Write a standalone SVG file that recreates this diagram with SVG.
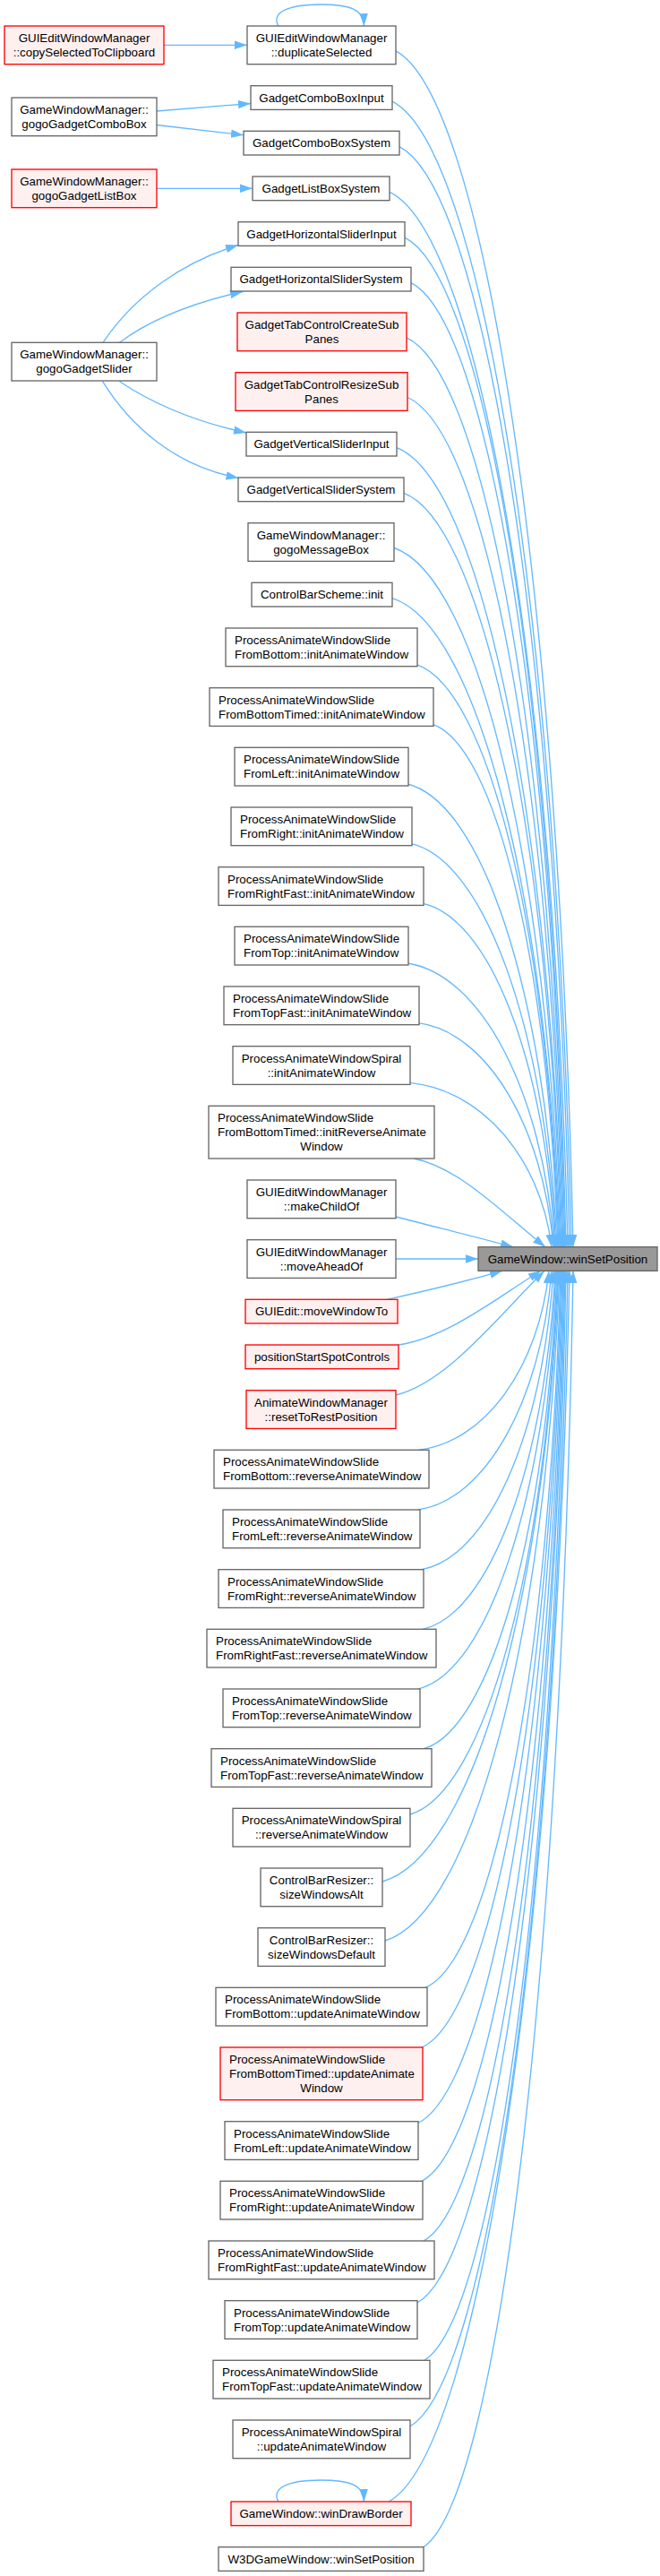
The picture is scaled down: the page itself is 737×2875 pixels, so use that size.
<svg xmlns="http://www.w3.org/2000/svg" width="737" height="2875" viewBox="0 0 737 2875">
<style>
.n{fill:#ffffff;stroke:#666666;stroke-width:1.33}
.r{fill:#fff0f0;stroke:#ff0000;stroke-width:1.33}
.t{fill:#999999;stroke:#666666;stroke-width:1.33}
text{font-family:"Liberation Sans",Arial,Helvetica,sans-serif;font-size:13.33px;fill:#000000}
.c{text-anchor:middle}
.e{fill:none;stroke:#63b8ff;stroke-width:1.33;marker-end:url(#arr)}
</style>
<defs>
<marker id="arr" markerUnits="userSpaceOnUse" markerWidth="14" markerHeight="10" refX="13.3" refY="4.5" orient="auto" viewBox="0 0 13.3 9">
<path d="M0,0 L13.3,4.5 L0,9 Z" fill="#63b8ff"/>
</marker>
</defs>
<rect x="0" y="0" width="737" height="2875" fill="#ffffff"/>
<g id="edges">
<path class="e" d="M183,50.3 L276,50.3"/>
<path class="e" d="M175,124 L280,115.5"/>
<path class="e" d="M175,139.5 L272,150.7"/>
<path class="e" d="M175,210.3 L282,210.3"/>
<path class="e" d="M115,382.3 C150,330 205,292 266,273.5"/>
<path class="e" d="M133.5,382.3 C170,355 215,338 271,325.5"/>
<path class="e" d="M133.5,425.7 C170,450 215,470 275,483"/>
<path class="e" d="M114.6,425.7 C145,475 195,520 266.5,533.5"/>
<path class="e" d="M311,29 C302,14 322,5 358,5 C390,5 406,10 406.5,29"/>
<path class="e" d="M311,2792 C302,2777 322,2768 358,2768 C390,2768 406,2773 406.5,2792"/>
<path class="e" d="M442,56.8 C541,110.2 624.2,657.5 640,1391.7"/>
<path class="e" d="M438,113.1 C538,164.2 622,688.5 638,1391.7"/>
<path class="e" d="M446,163.7 C541,212.8 620.8,716.3 636,1391.7"/>
<path class="e" d="M435,214.4 C534.5,261.5 618.1,744.2 634,1391.7"/>
<path class="e" d="M452,265.1 C542,310.2 617.6,772.1 632,1391.7"/>
<path class="e" d="M459,315.7 C545,358.7 617.2,799.9 631,1391.7"/>
<path class="e" d="M454,376.8 C542,417.4 615.9,833.5 630,1391.7"/>
<path class="e" d="M455,443.5 C542,481.4 615.1,870.2 629,1391.7"/>
<path class="e" d="M443,499.7 C535.5,535.4 613.2,901.1 628,1391.7"/>
<path class="e" d="M451,550.4 C539,584.1 612.9,929 627,1391.7"/>
<path class="e" d="M440,611.5 C533,642.7 611.1,962.6 626,1391.7"/>
<path class="e" d="M438,667.7 C531.5,696.7 610,993.5 625,1391.7"/>
<path class="e" d="M465,741.7 C544.5,767.7 611.3,1034.2 624,1391.7"/>
<path class="e" d="M483,808.4 C553,831.7 611.8,1070.9 623,1391.7"/>
<path class="e" d="M455,875 C538.5,895.7 608.6,1107.5 622,1391.7"/>
<path class="e" d="M459,941.7 C540,959.7 608,1144.2 621,1391.7"/>
<path class="e" d="M472,1008.4 C546,1023.7 608.2,1180.9 620,1391.7"/>
<path class="e" d="M455,1075 C537,1087.7 605.9,1217.5 619,1391.7"/>
<path class="e" d="M467,1141.7 C542.5,1151.7 605.9,1254.2 618,1391.7"/>
<path class="e" d="M457,1208.4 C536.5,1215.7 603.3,1290.9 616,1391.7"/>
<path class="e" d="M462,1293 C513.5,1302.9 565,1357.2 609,1391.7"/>
<path class="e" d="M442,1358 C480,1368 530,1380 573,1391.7"/>
<path class="e" d="M442,1405 L534,1405"/>
<path class="e" d="M432,1450.3 C470,1442 520,1430 561,1418.3"/>
<path class="e" d="M445,1501 C500.7,1492.7 556.3,1447.2 604,1418.3"/>
<path class="e" d="M442,1557 C500,1543.1 558.2,1466.8 608,1418.3"/>
<path class="e" d="M467,1618.3 C540,1610.3 601.3,1528.3 613,1418.3"/>
<path class="e" d="M467,1685 C541.5,1674.3 604.1,1565 616,1418.3"/>
<path class="e" d="M471,1751.7 C544.5,1738.4 606.2,1601.7 618,1418.3"/>
<path class="e" d="M472,1818.3 C546,1802.3 608.2,1638.3 620,1418.3"/>
<path class="e" d="M467,1885 C544,1866.3 608.7,1675 621,1418.3"/>
<path class="e" d="M473,1951.7 C547.5,1930.4 610.1,1711.7 622,1418.3"/>
<path class="e" d="M458,2025 C540.5,2000.7 609.8,1752 623,1418.3"/>
<path class="e" d="M427,2100 C525.5,2072.7 608.2,1793.2 624,1418.3"/>
<path class="e" d="M430,2166 C527.5,2136.1 609.4,1829.5 625,1418.3"/>
<path class="e" d="M475,2218.3 C550.5,2186.3 613.8,1858.3 626,1418.3"/>
<path class="e" d="M471,2285 C549,2250.3 614.5,1895 627,1418.3"/>
<path class="e" d="M466,2370 C547,2331.9 615,1941.7 628,1418.3"/>
<path class="e" d="M471,2434.3 C550,2393.7 616.4,1977.1 629,1418.3"/>
<path class="e" d="M473,2501 C551.5,2457.7 617.4,2013.8 630,1418.3"/>
<path class="e" d="M466,2570 C548.5,2523.9 617.8,2051.7 631,1418.3"/>
<path class="e" d="M474,2634.3 C553,2585.7 619.4,2087.1 632,1418.3"/>
<path class="e" d="M458,2708 C546,2656.4 619.9,2127.6 634,1418.3"/>
<path class="e" d="M434,2792 C535,2737 619.8,2173.8 636,1418.3"/>
<path class="e" d="M473,2842.7 C556.5,2785.7 626.6,2201.7 640,1418.3"/>
</g>
<g id="L1"><rect class="r" x="5" y="29" width="178" height="42.7"/><text class="c" x="94" y="47">GUIEditWindowManager</text><text class="c" x="94" y="63">::copySelectedToClipboard</text></g>
<g id="L2"><rect class="n" x="13" y="109" width="162" height="42.7"/><text class="c" x="94" y="127">GameWindowManager::</text><text class="c" x="94" y="143">gogoGadgetComboBox</text></g>
<g id="L3"><rect class="r" x="13" y="189" width="162" height="42.7"/><text class="c" x="94" y="207">GameWindowManager::</text><text class="c" x="94" y="223">gogoGadgetListBox</text></g>
<g id="L4"><rect class="n" x="13" y="382.3" width="162" height="42.7"/><text class="c" x="94" y="400.3">GameWindowManager::</text><text class="c" x="94" y="416.3">gogoGadgetSlider</text></g>
<g id="N1"><rect class="n" x="276" y="29" width="166" height="42.7"/><text class="c" x="359" y="47">GUIEditWindowManager</text><text class="c" x="359" y="63">::duplicateSelected</text></g>
<g id="N2"><rect class="n" x="280" y="95.7" width="158" height="26.7"/><text class="c" x="359" y="113.7">GadgetComboBoxInput</text></g>
<g id="N3"><rect class="n" x="272" y="146.3" width="174" height="26.7"/><text class="c" x="359" y="164.3">GadgetComboBoxSystem</text></g>
<g id="N4"><rect class="n" x="282" y="197" width="153" height="26.7"/><text class="c" x="358.5" y="215">GadgetListBoxSystem</text></g>
<g id="N5"><rect class="n" x="266" y="247.7" width="186" height="26.7"/><text class="c" x="359" y="265.7">GadgetHorizontalSliderInput</text></g>
<g id="N6"><rect class="n" x="258" y="298.3" width="201" height="26.7"/><text class="c" x="358.5" y="316.3">GadgetHorizontalSliderSystem</text></g>
<g id="N7"><rect class="r" x="265" y="349" width="189" height="42.7"/><text class="c" x="359.5" y="367">GadgetTabControlCreateSub</text><text class="c" x="359.5" y="383">Panes</text></g>
<g id="N8"><rect class="r" x="263" y="415.7" width="192" height="42.7"/><text class="c" x="359" y="433.7">GadgetTabControlResizeSub</text><text class="c" x="359" y="449.7">Panes</text></g>
<g id="N9"><rect class="n" x="275" y="482.3" width="168" height="26.7"/><text class="c" x="359" y="500.3">GadgetVerticalSliderInput</text></g>
<g id="N10"><rect class="n" x="266" y="533" width="185" height="26.7"/><text class="c" x="358.5" y="551">GadgetVerticalSliderSystem</text></g>
<g id="N11"><rect class="n" x="277" y="583.7" width="163" height="42.7"/><text class="c" x="358.5" y="601.7">GameWindowManager::</text><text class="c" x="358.5" y="617.7">gogoMessageBox</text></g>
<g id="N12"><rect class="n" x="281" y="650.3" width="157" height="26.7"/><text class="c" x="359.5" y="668.3">ControlBarScheme::init</text></g>
<g id="N13"><rect class="n" x="252" y="701" width="214" height="42.7"/><text x="262" y="719">ProcessAnimateWindowSlide</text><text x="262" y="735">FromBottom::initAnimateWindow</text></g>
<g id="N14"><rect class="n" x="234" y="767.7" width="250" height="42.7"/><text x="244" y="785.7">ProcessAnimateWindowSlide</text><text x="244" y="801.7">FromBottomTimed::initAnimateWindow</text></g>
<g id="N15"><rect class="n" x="262" y="834.3" width="194" height="42.7"/><text x="272" y="852.3">ProcessAnimateWindowSlide</text><text x="272" y="868.3">FromLeft::initAnimateWindow</text></g>
<g id="N16"><rect class="n" x="258" y="901" width="202" height="42.7"/><text x="268" y="919">ProcessAnimateWindowSlide</text><text x="268" y="935">FromRight::initAnimateWindow</text></g>
<g id="N17"><rect class="n" x="244" y="967.7" width="229" height="42.7"/><text x="254" y="985.7">ProcessAnimateWindowSlide</text><text x="254" y="1001.7">FromRightFast::initAnimateWindow</text></g>
<g id="N18"><rect class="n" x="262" y="1034.3" width="194" height="42.7"/><text x="272" y="1052.3">ProcessAnimateWindowSlide</text><text x="272" y="1068.3">FromTop::initAnimateWindow</text></g>
<g id="N19"><rect class="n" x="250" y="1101" width="218" height="42.7"/><text x="260" y="1119">ProcessAnimateWindowSlide</text><text x="260" y="1135">FromTopFast::initAnimateWindow</text></g>
<g id="N20"><rect class="n" x="260" y="1167.7" width="198" height="42.7"/><text class="c" x="359" y="1185.7">ProcessAnimateWindowSpiral</text><text class="c" x="359" y="1201.7">::initAnimateWindow</text></g>
<g id="N21"><rect class="n" x="233" y="1234.3" width="252" height="58.7"/><text x="243" y="1252.3">ProcessAnimateWindowSlide</text><text x="243" y="1268.3">FromBottomTimed::initReverseAnimate</text><text class="c" x="359" y="1284.3">Window</text></g>
<g id="N22"><rect class="n" x="276" y="1317" width="166" height="42.7"/><text class="c" x="359" y="1335">GUIEditWindowManager</text><text class="c" x="359" y="1351">::makeChildOf</text></g>
<g id="N23"><rect class="n" x="276" y="1383.7" width="166" height="42.7"/><text class="c" x="359" y="1401.7">GUIEditWindowManager</text><text class="c" x="359" y="1417.7">::moveAheadOf</text></g>
<g id="N24"><rect class="r" x="274" y="1450.3" width="170" height="26.7"/><text class="c" x="359" y="1468.3">GUIEdit::moveWindowTo</text></g>
<g id="N25"><rect class="r" x="274" y="1501" width="171" height="26.7"/><text class="c" x="359.5" y="1519">positionStartSpotControls</text></g>
<g id="N26"><rect class="r" x="275" y="1551.7" width="167" height="42.7"/><text class="c" x="358.5" y="1569.7">AnimateWindowManager</text><text class="c" x="358.5" y="1585.7">::resetToRestPosition</text></g>
<g id="N27"><rect class="n" x="239" y="1618.3" width="240" height="42.7"/><text x="249" y="1636.3">ProcessAnimateWindowSlide</text><text x="249" y="1652.3">FromBottom::reverseAnimateWindow</text></g>
<g id="N28"><rect class="n" x="249" y="1685" width="220" height="42.7"/><text x="259" y="1703">ProcessAnimateWindowSlide</text><text x="259" y="1719">FromLeft::reverseAnimateWindow</text></g>
<g id="N29"><rect class="n" x="244" y="1751.7" width="229" height="42.7"/><text x="254" y="1769.7">ProcessAnimateWindowSlide</text><text x="254" y="1785.7">FromRight::reverseAnimateWindow</text></g>
<g id="N30"><rect class="n" x="231" y="1818.3" width="256" height="42.7"/><text x="241" y="1836.3">ProcessAnimateWindowSlide</text><text x="241" y="1852.3">FromRightFast::reverseAnimateWindow</text></g>
<g id="N31"><rect class="n" x="249" y="1885" width="220" height="42.7"/><text x="259" y="1903">ProcessAnimateWindowSlide</text><text x="259" y="1919">FromTop::reverseAnimateWindow</text></g>
<g id="N32"><rect class="n" x="236" y="1951.7" width="246" height="42.7"/><text x="246" y="1969.7">ProcessAnimateWindowSlide</text><text x="246" y="1985.7">FromTopFast::reverseAnimateWindow</text></g>
<g id="N33"><rect class="n" x="260" y="2018.3" width="198" height="42.7"/><text class="c" x="359" y="2036.3">ProcessAnimateWindowSpiral</text><text class="c" x="359" y="2052.3">::reverseAnimateWindow</text></g>
<g id="N34"><rect class="n" x="291" y="2085" width="136" height="42.7"/><text class="c" x="359" y="2103">ControlBarResizer::</text><text class="c" x="359" y="2119">sizeWindowsAlt</text></g>
<g id="N35"><rect class="n" x="288" y="2151.7" width="142" height="42.7"/><text class="c" x="359" y="2169.7">ControlBarResizer::</text><text class="c" x="359" y="2185.7">sizeWindowsDefault</text></g>
<g id="N36"><rect class="n" x="241" y="2218.3" width="236" height="42.7"/><text x="251" y="2236.3">ProcessAnimateWindowSlide</text><text x="251" y="2252.3">FromBottom::updateAnimateWindow</text></g>
<g id="N37"><rect class="r" x="246" y="2285" width="226" height="58.7"/><text x="256" y="2303">ProcessAnimateWindowSlide</text><text x="256" y="2319">FromBottomTimed::updateAnimate</text><text class="c" x="359" y="2335">Window</text></g>
<g id="N38"><rect class="n" x="251" y="2367.7" width="216" height="42.7"/><text x="261" y="2385.7">ProcessAnimateWindowSlide</text><text x="261" y="2401.7">FromLeft::updateAnimateWindow</text></g>
<g id="N39"><rect class="n" x="246" y="2434.3" width="226" height="42.7"/><text x="256" y="2452.3">ProcessAnimateWindowSlide</text><text x="256" y="2468.3">FromRight::updateAnimateWindow</text></g>
<g id="N40"><rect class="n" x="233" y="2501" width="252" height="42.7"/><text x="243" y="2519">ProcessAnimateWindowSlide</text><text x="243" y="2535">FromRightFast::updateAnimateWindow</text></g>
<g id="N41"><rect class="n" x="251" y="2567.7" width="215" height="42.7"/><text x="261" y="2585.7">ProcessAnimateWindowSlide</text><text x="261" y="2601.7">FromTop::updateAnimateWindow</text></g>
<g id="N42"><rect class="n" x="238" y="2634.3" width="242" height="42.7"/><text x="248" y="2652.3">ProcessAnimateWindowSlide</text><text x="248" y="2668.3">FromTopFast::updateAnimateWindow</text></g>
<g id="N43"><rect class="n" x="260" y="2701" width="198" height="42.7"/><text class="c" x="359" y="2719">ProcessAnimateWindowSpiral</text><text class="c" x="359" y="2735">::updateAnimateWindow</text></g>
<g id="N44"><rect class="r" x="258" y="2792" width="201" height="26.7"/><text class="c" x="358.5" y="2810">GameWindow::winDrawBorder</text></g>
<g id="N45"><rect class="n" x="244" y="2842.7" width="229" height="26.7"/><text class="c" x="358.5" y="2860.7">W3DGameWindow::winSetPosition</text></g>
<g id="T"><rect class="t" x="534" y="1391.7" width="200" height="26.7"/><text class="c" x="634" y="1409.7">GameWindow::winSetPosition</text></g>
</svg>
